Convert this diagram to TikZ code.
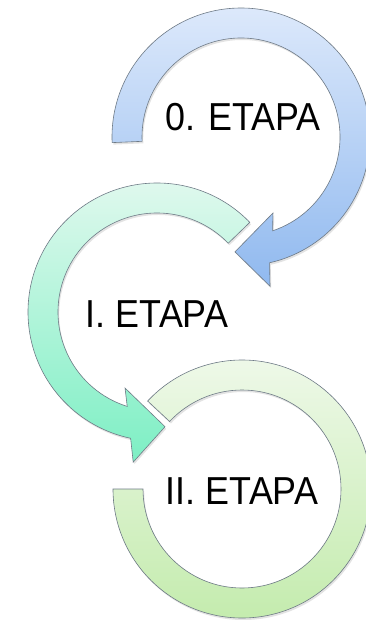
\documentclass[tikz,border=0pt]{standalone}
\usepackage{fontspec}
\setmainfont{Liberation Sans}
\usetikzlibrary{shadows}
\definecolor{blueTop}{HTML}{DDE9FB}
\definecolor{blueBot}{HTML}{90B9EF}
\definecolor{mintTop}{HTML}{E3F9EF}
\definecolor{mintBot}{HTML}{7DEFC4}
\definecolor{greenTop}{HTML}{F0F9EB}
\definecolor{greenBot}{HTML}{C2EBAB}
\definecolor{edgeGray}{HTML}{6E7A86}
\tikzset{
  ringshape/.style={draw=edgeGray, line width=0.6pt, line join=miter,
    drop shadow={opacity=0.22, shadow xshift=1.2pt, shadow yshift=-2pt}},
  stagelabel/.style={anchor=base, inner sep=0pt, xscale=0.92,
    font=\fontsize{39}{40}\selectfont, text=black}
}
\begin{document}
\begin{tikzpicture}[x=1pt,y=-1pt]
\useasboundingbox (0,0) rectangle (365,620);
\fill[white] (0,0) rectangle (365,620);

% ring 0 (blue), centre (241,137)
\begin{scope}[shift={(241,137)}]
\shade[ringshape, top color=blueTop, bottom color=blueBot]
  (177.5:129) arc[start angle=177.5, end angle=437.2, radius=129]
  -- (79:152) -- (93:115) -- (67.2:82.5) -- (71.4:99)
  arc[start angle=431.4, end angle=177.5, radius=99] -- cycle;
\end{scope}

% ring I (mint), centre (157,312)
\begin{scope}[shift={(157,312)}]
\shade[ringshape, top color=mintTop, bottom color=mintBot]
  (-44:129) arc[start angle=-44, end angle=-258.2, radius=129]
  -- (-261:152) -- (-274:115) -- (-247.2:82.5) -- (-252.5:99)
  arc[start angle=-252.5, end angle=-44, radius=99] -- cycle;
\end{scope}

% ring II (green), centre (242,489)
\begin{scope}[shift={(242,489)}]
\shade[ringshape, top color=greenTop, bottom color=greenBot]
  (-137:129) arc[start angle=-137, end angle=180, radius=129]
  -- (180:99) arc[start angle=180, end angle=-137, radius=99] -- cycle;
\end{scope}

\node[stagelabel] (s0) at (243,131) {0. ETAPA};
\node[stagelabel] (s1) at (157,327) {I. ETAPA};
\node[stagelabel] (s2) at (242,504) {II. ETAPA};
\end{tikzpicture}
\end{document}
